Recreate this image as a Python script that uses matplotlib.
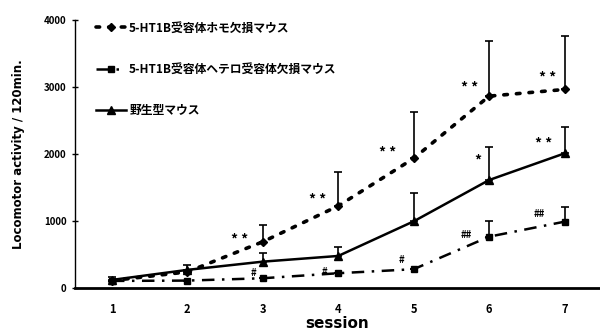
import numpy as np
import matplotlib
matplotlib.use("Agg")
import matplotlib.pyplot as plt

plt.rcParams['font.family'] = ['Noto Sans CJK JP', 'DejaVu Sans']

sessions = [1, 2, 3, 4, 5, 6, 7]
tick_labels = ['1', '2', '3', '4', '5', '6', '7']

homo_label = '5-HT1B受容体ホモ欠損マウス'
hetero_label = '5-HT1B受容体ヘテロ受容体欠損マウス'
wt_label = '野生型マウス'

homo_mean = [110, 240, 690, 1225, 1935, 2865, 2965]
homo_err = [0, 0, 250, 500, 690, 830, 795]
hetero_mean = [105, 110, 145, 220, 280, 766, 990]
hetero_err = [0, 0, 0, 0, 0, 230, 225]
wt_mean = [120, 270, 393, 478, 995, 1612, 2010]
wt_err = [40, 70, 135, 138, 427, 490, 395]

# significance marks (session position, y, text)
stars = [(2.69, 720, '* *'), (3.72, 1310, '* *'), (4.66, 2010, '* *'),
         (5.74, 2990, '* *'), (6.77, 3140, '* *'),
         (5.85, 1900, '*'), (6.72, 2150, '* *')]
hashes = [(2.87, 230, '#'), (3.82, 235, '#'), (4.84, 420, '#'),
          (5.70, 790, '##'), (6.67, 1100, '##')]

fig = plt.figure(figsize=(6, 3.36), dpi=100)
ax = fig.add_axes([0.125, 0.143, 0.875, 0.797])

zeros = np.zeros(len(sessions))
h1 = ax.errorbar(sessions, homo_mean, yerr=[zeros, homo_err], color='black',
                 linestyle=(0, (1, 2.5)), linewidth=2.6, marker='D', markersize=4.5,
                 capsize=3, elinewidth=1.2, capthick=1.2, dash_capstyle='round')
h2 = ax.errorbar(sessions, hetero_mean, yerr=[zeros, hetero_err], color='black',
                 linestyle=(0, (5, 3, 1, 3)), linewidth=1.8, marker='s', markersize=5,
                 capsize=3, elinewidth=1.2, capthick=1.2)
h3 = ax.errorbar(sessions, wt_mean, yerr=[zeros, wt_err], color='black',
                 linestyle='-', linewidth=1.8, marker='^', markersize=6,
                 capsize=3, elinewidth=1.2, capthick=1.2)

for x, y, t in stars:
    ax.text(x, y, t, ha='center', va='center', fontsize=10, fontweight='bold')
for x, y, t in hashes:
    ax.text(x, y, t, ha='center', va='center', fontsize=7, fontweight='bold')

ax.set_xlim(0.51, 7.47)
ax.set_ylim(0, 4000)
ax.set_xticks(sessions)
ax.set_xticklabels(tick_labels, fontsize=8, fontweight='bold')
ax.tick_params(axis='x', length=0, pad=11)
ax.set_yticks([0, 1000, 2000, 3000, 4000])
ax.tick_params(axis='y', direction='inout', length=5, labelsize=7, width=1)
for lab in ax.get_yticklabels():
    lab.set_fontweight('bold')

ax.spines['top'].set_visible(False)
ax.spines['right'].set_visible(False)
ax.spines['bottom'].set_linewidth(2)
ax.spines['left'].set_linewidth(1)

ax.set_xlabel('session', fontsize=11, fontweight='bold', labelpad=0, family='DejaVu Sans')
ax.set_ylabel('Locomotor activity / 120min.', fontsize=8.5, fontweight='bold', labelpad=14,
              family='DejaVu Sans')

ax.legend([h1[0], h2[0], h3[0]], [homo_label, hetero_label, wt_label],
          loc='upper left', bbox_to_anchor=(0.02, 1.035), frameon=False,
          prop={'size': 8.5, 'weight': 'bold', 'family': ['Noto Sans CJK JP', 'DejaVu Sans']},
          handlelength=2.5, handletextpad=0.3, labelspacing=2.4)

fig.savefig('out.png', dpi=100)
